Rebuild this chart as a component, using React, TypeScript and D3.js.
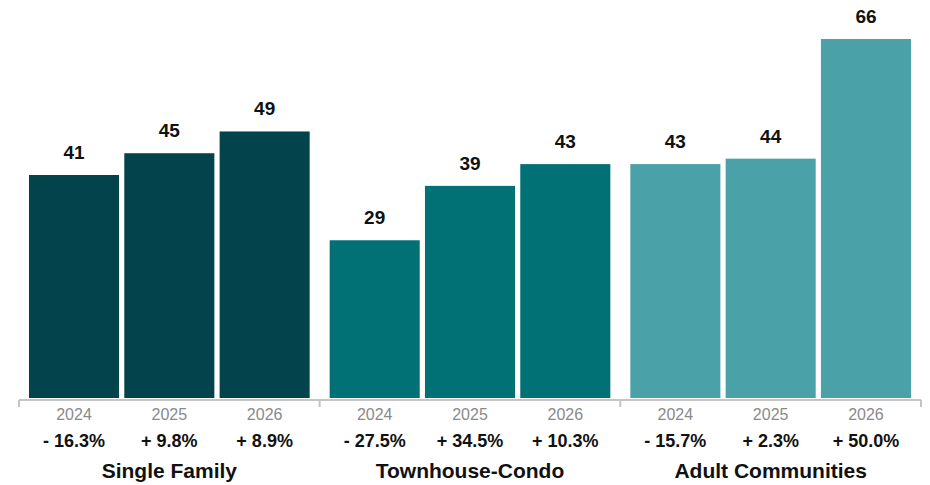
import React from "react";
import * as d3 from "d3";

const groups = ["Single Family", "Townhouse-Condo", "Adult Communities"];
const years = ["2024", "2025", "2026"];
const values = [
  [41, 45, 49],
  [29, 39, 43],
  [43, 44, 66],
];
const changes = [
  ["- 16.3%", "+ 9.8%", "+ 8.9%"],
  ["- 27.5%", "+ 34.5%", "+ 10.3%"],
  ["- 15.7%", "+ 2.3%", "+ 50.0%"],
];
const colors = ["#03444c", "#027176", "#4aa1a7"];

const W = 930;
const H = 485;
const font = "'Liberation Sans', Arial, Helvetica, sans-serif";

export default function App() {
  const x0 = d3.scaleBand<string>().domain(groups).range([19, 921]).paddingInner(0).paddingOuter(0);
  const x1 = d3.scaleBand<string>().domain(years).range([10, x0.bandwidth() - 10]).paddingInner(0.055).paddingOuter(0);
  const y = d3.scaleLinear().domain([0, 66]).range([398, 39]);
  const axisY = 400;

  return (
    <svg width={W} height={H} style={{ position: "absolute", left: 0, top: 0, fontFamily: font }}>
      {groups.map((g, gi) => (
        <g key={g} transform={`translate(${x0(g)},0)`}>
          {years.map((yr, i) => {
            const v = values[gi][i];
            const bx = x1(yr)!;
            const bw = x1.bandwidth();
            return (
              <g key={yr}>
                <rect x={bx} y={y(v)} width={bw} height={y(0) - y(v)} fill={colors[gi]} />
                <text x={bx + bw / 2} y={y(v) - 16} textAnchor="middle" fontSize={19} fontWeight="bold" fill="#111">
                  {v}
                </text>
                <text x={bx + bw / 2} y={420} textAnchor="middle" fontSize={16} fill="#8a8a8a">
                  {yr}
                </text>
                <text x={bx + bw / 2} y={446.5} textAnchor="middle" fontSize={18} fontWeight="bold" fill="#111">
                  {changes[gi][i]}
                </text>
              </g>
            );
          })}
          <text x={x0.bandwidth() / 2} y={477.5} textAnchor="middle" fontSize={21} fontWeight="bold" fill="#111">
            {g}
          </text>
        </g>
      ))}
      <line x1={19} x2={921} y1={axisY} y2={axisY} stroke="#c4c4c4" strokeWidth={2} />
      {[0, 1, 2, 3].map((i) => {
        const tx = i < 3 ? x0(groups[i])! : 921;
        return <line key={i} x1={tx} x2={tx} y1={axisY} y2={axisY + 7} stroke="#c4c4c4" strokeWidth={2} />;
      })}
    </svg>
  );
}
